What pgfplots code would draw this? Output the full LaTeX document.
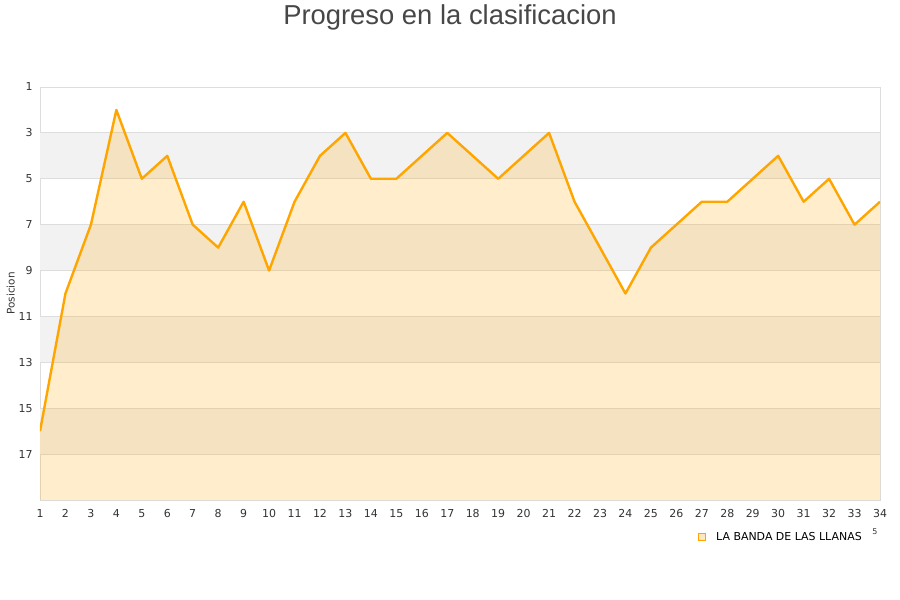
\documentclass[border=0pt]{standalone}
\usepackage{pgfplots}
\pgfplotsset{compat=1.18}
\usepackage{fontspec}
\setmainfont{DejaVu Sans}
\newfontfamily\titlefont{Liberation Sans}
\definecolor{lineor}{HTML}{FFA500}
\definecolor{band}{HTML}{F2F2F2}
\definecolor{gridc}{HTML}{DDDDDD}
\definecolor{tickc}{HTML}{333333}
\begin{document}
\begin{tikzpicture}
\path[use as bounding box] (0bp,0bp) rectangle (900bp,600bp);
\node[font=\titlefont\fontsize{27.5}{32}\selectfont, text=tickc!90] at (450bp,583bp) {Progreso en la clasificacion};
\begin{axis}[
  at={(40bp,100bp)}, anchor=south west,
  scale only axis, width=840bp, height=413bp,
  xmin=1, xmax=34, ymin=1, ymax=19,
  y dir=reverse,
  xtick={1,...,34}, ytick={1,3,...,17},
  tick style={draw=none},
  axis line style={gridc},
  tick label style={font=\fontsize{11}{13}\selectfont, text=tickc},
  /pgf/number format/assume math mode=true,
  xticklabel style={yshift=-6bp},
  yticklabel style={xshift=-4bp},
  ylabel={Posicion}, ylabel style={font=\fontsize{10.5}{12}\selectfont, text=tickc, yshift=-3bp},
]
\fill[band] (axis cs:1,3) rectangle (axis cs:34,5);
\fill[band] (axis cs:1,7) rectangle (axis cs:34,9);
\fill[band] (axis cs:1,11) rectangle (axis cs:34,13);
\fill[band] (axis cs:1,15) rectangle (axis cs:34,17);
\foreach \yy in {3,5,...,17} {
  \edef\tmp{\noexpand\draw[gridc, line width=0.8pt] (axis cs:1,\yy) -- (axis cs:34,\yy);}
  \tmp
}
\addplot[draw=none, fill=lineor, fill opacity=0.2] coordinates {
(1,19) (1,16) (2,10) (3,7) (4,2) (5,5) (6,4) (7,7) (8,8) (9,6) (10,9)
(11,6) (12,4) (13,3) (14,5) (15,5) (16,4) (17,3) (18,4) (19,5) (20,4)
(21,3) (22,6) (23,8) (24,10) (25,8) (26,7) (27,6) (28,6) (29,5) (30,4)
(31,6) (32,5) (33,7) (34,6) (34,19)};
\addplot[lineor, line width=2.4pt, line join=round] coordinates {
(1,16) (2,10) (3,7) (4,2) (5,5) (6,4) (7,7) (8,8) (9,6) (10,9)
(11,6) (12,4) (13,3) (14,5) (15,5) (16,4) (17,3) (18,4) (19,5) (20,4)
(21,3) (22,6) (23,8) (24,10) (25,8) (26,7) (27,6) (28,6) (29,5) (30,4)
(31,6) (32,5) (33,7) (34,6)};
\end{axis}
\draw[lineor, fill=lineor!25, line width=0.6pt] (698.5bp,59.5bp) rectangle (705.5bp,66.5bp);
\node[anchor=west, font=\fontsize{11}{13}\selectfont, inner sep=0pt] at (716bp,63bp) {LA BANDA DE LAS LLANAS};
\node[font=\fontsize{8}{10}\selectfont, text=tickc] at (875bp,68bp) {5};
\end{tikzpicture}
\end{document}
